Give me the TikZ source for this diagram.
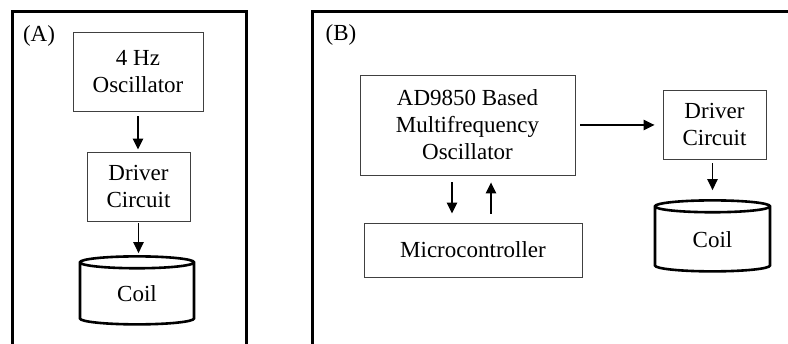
\documentclass[tikz,border=0pt]{standalone}
\usepackage{fontspec}
\setmainfont{Liberation Serif}
\usetikzlibrary{arrows.meta,positioning,calc,shapes.geometric}

\begin{document}
\begin{tikzpicture}[x=1pt, y=-1pt, >={Triangle[length=11pt,width=10.5pt]},
    block/.style={draw=black!75, line width=0.9pt, align=center, inner sep=0pt,
        font=\fontsize{23}{27}\selectfont},
    coil/.style={cylinder, shape border rotate=90, draw, line width=2.6pt, aspect=0.3,
        inner sep=0pt, font=\fontsize{23}{27}\selectfont},
    tag/.style={font=\fontsize{23}{27}\selectfont},
    frame/.style={line width=3pt, line join=miter},
    flow/.style={->, line width=1.4pt}]
    \useasboundingbox (0,0) rectangle (788,344);

    % Frames
    \draw[frame] (12,350) -- (12,12) -- (246,12) -- (246,350);
    \draw[frame] (312,350) -- (312,12) -- (795,12);
    \node[tag] (labA) at (39,36) {(A)};
    \node[tag] (labB) at (341,35) {(B)};

    % Panel A
    \node[block, minimum width=130pt, minimum height=79pt] (oscA) at (138,71.5) {4 Hz\\Oscillator};
    \node[block, minimum width=103pt, minimum height=69pt] (drvA) at (138.5,186.5) {Driver\\Circuit};
    \node[coil, minimum width=114pt, minimum height=68pt] (coilA) at (137,294) {Coil};
    \draw[flow, shorten <=5pt, shorten >=2pt] (oscA.south) -- (oscA.south |- drvA.north);
    \draw[flow, shorten <=2pt, shorten >=2pt] (drvA.south) -- (drvA.south |- coilA.north);

    % Panel B
    \node[block, minimum width=215pt, minimum height=100pt] (oscB) at (467.5,125) {AD9850 Based\\Multifrequency\\Oscillator};
    \node[block, minimum width=103pt, minimum height=69pt] (drvB) at (714.5,124.5) {Driver\\Circuit};
    \node[coil, minimum width=115pt, minimum height=71pt] (coilB) at (712.5,239.5) {Coil};
    \node[block, minimum width=218pt, minimum height=54pt] (mcuB) at (473,250) {Microcontroller};
    \draw[flow, shorten <=5pt, shorten >=8pt] (oscB.east) -- (oscB.east -| drvB.west);
    \draw[flow, shorten <=4pt, shorten >=9pt] (drvB.south -| coilB.north) -- (coilB.north);
    \draw[flow, shorten <=7pt, shorten >=9pt] ([xshift=-15.5pt]oscB.south) -- ([xshift=-15.5pt]oscB.south |- mcuB.north);
    \draw[flow, shorten <=9pt, shorten >=7pt] ([xshift=23.5pt]oscB.south |- mcuB.north) -- ([xshift=23.5pt]oscB.south);
\end{tikzpicture}
\end{document}
